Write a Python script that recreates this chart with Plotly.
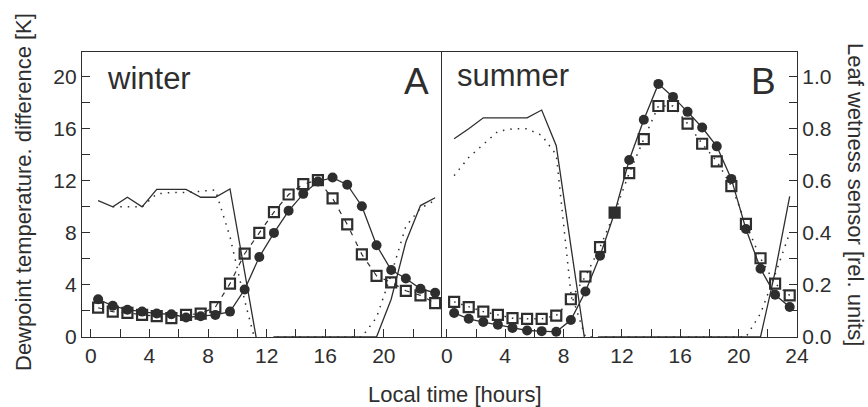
import plotly.graph_objects as go

# ---------------- data ----------------
hours = [0.5, 1.5, 2.5, 3.5, 4.5, 5.5, 6.5, 7.5, 8.5, 9.5, 10.5, 11.5,
         12.5, 13.5, 14.5, 15.5, 16.5, 17.5, 18.5, 19.5, 20.5, 21.5, 22.5, 23.5]

# winter (panel A) dewpoint temperature difference [K]
winter_circles = [2.9, 2.4, 2.1, 1.95, 1.8, 1.75, 1.5, 1.6, 1.7, 1.95, 3.65, 6.15,
                  8.0, 9.7, 11.0, 11.95, 12.25, 11.7, 10.05, 7.05, 5.15, 4.5, 3.7, 3.4]
winter_squares = [2.25, 1.95, 1.85, 1.7, 1.6, 1.45, 1.7, 1.8, 2.3, 4.1, 6.4, 8.0,
                  9.6, 10.95, 11.75, 12.05, 10.65, 8.65, 6.35, 4.7, 4.2, 3.55, 3.2, 2.6]
# winter leaf wetness [rel. units]
winter_wet_solid = [0.524, 0.50, 0.537, 0.50, 0.567, 0.567, 0.567, 0.537, 0.537, 0.569, 0.25, -0.07,
                    0, 0, 0, 0, 0, 0, 0, 0, 0.145, 0.365, 0.505, 0.535]
winter_wet_dotted = [None, 0.50, 0.50, 0.50, 0.55, 0.555, 0.555, 0.56, 0.565, 0.385, 0.14, -0.075,
                     0, 0, 0, 0, 0, 0, 0, 0.075, 0.24, 0.425, 0.495, 0.525]

# summer (panel B)
summer_circles = [1.85, 1.4, 1.15, 0.95, 0.7, 0.5, 0.45, 0.4, 1.3, 3.5, 6.25, 9.55,
                  13.6, 16.7, 19.45, 18.45, 17.3, 16.1, 14.65, 12.15, 8.3, 5.25, 3.25, 2.3]
summer_squares = [2.7, 2.3, 1.95, 1.7, 1.45, 1.4, 1.4, 1.65, 2.9, 4.65, 6.9, 9.55,
                  12.6, 15.2, 17.75, 17.75, 16.4, 14.85, 13.5, 11.6, 8.7, 6.05, 4.1, 3.2]
summer_wet_solid = [0.762, 0.80, 0.842, 0.842, 0.842, 0.842, 0.872, 0.735, 0.35, -0.03, 0, 0,
                    0, 0, 0, 0, 0, 0, 0, 0, 0, 0, 0.25, 0.54]
summer_wet_dotted = [0.62, 0.69, 0.74, 0.79, 0.80, 0.80, 0.775, 0.70, 0.17, 0.0, 0, 0,
                     0, 0, 0, 0, 0, 0, 0, 0, 0, 0.09, 0.24, 0.40]

x_ticks_left = [0, 2, 4, 6, 8, 10, 12, 14, 16, 18, 20, 22]
x_labels_left = ["0", "", "4", "", "8", "", "12", "", "16", "", "20", ""]
x_ticks_right = [0, 2, 4, 6, 8, 10, 12, 14, 16, 18, 20, 22, 24]
x_labels_right = ["0", "", "4", "", "8", "", "12", "", "16", "", "20", "", "24"]
y_ticks_left = [0, 2, 4, 6, 8, 10, 12, 14, 16, 18, 20]
y_labels_left = ["0", "", "4", "", "8", "", "12", "", "16", "", "20"]
y_ticks_right = [0, 0.1, 0.2, 0.3, 0.4, 0.5, 0.6, 0.7, 0.8, 0.9, 1.0]
y_labels_right = ["0.0", "", "0.2", "", "0.4", "", "0.6", "", "0.8", "", "1.0"]

# ---------------- styling ----------------
INK = "#2e2e2e"
FONT = "Liberation Sans, Arial, sans-serif"
W, H = 868, 407
L, R, T, B = 82, 71, 52, 70
PW, PH = W - L - R, H - T - B
DIV = 441  # divider pixel


def px(x):
    return (x - L) / PW


def py(y):
    return (H - B - y) / PH


d = px(DIV)

fig = go.Figure()

sq_sym_summer = ["square-open"] * 24
sq_sym_summer[11] = "square"

# winter
fig.add_trace(go.Scatter(x=hours, y=winter_wet_solid, xaxis="x", yaxis="y3", mode="lines",
                         line=dict(color=INK, width=1.3)))
fig.add_trace(go.Scatter(x=hours, y=winter_wet_dotted, xaxis="x", yaxis="y3", mode="lines",
                         line=dict(color=INK, width=1.5, dash="1.5px,6px")))
fig.add_trace(go.Scatter(x=hours, y=winter_squares, xaxis="x", yaxis="y", mode="lines+markers",
                         line=dict(color=INK, width=1.2, dash="5px,7px"),
                         marker=dict(symbol="square-open", size=10, color=INK,
                                     line=dict(width=2.2, color=INK))))
fig.add_trace(go.Scatter(x=hours, y=winter_circles, xaxis="x", yaxis="y", mode="lines+markers",
                         line=dict(color=INK, width=1.3),
                         marker=dict(symbol="circle", size=10, color=INK)))

# summer
fig.add_trace(go.Scatter(x=hours, y=summer_wet_solid, xaxis="x2", yaxis="y4", mode="lines",
                         line=dict(color=INK, width=1.3)))
fig.add_trace(go.Scatter(x=hours, y=summer_wet_dotted, xaxis="x2", yaxis="y4", mode="lines",
                         line=dict(color=INK, width=1.5, dash="1.5px,6px")))
fig.add_trace(go.Scatter(x=hours, y=summer_squares, xaxis="x2", yaxis="y2", mode="lines+markers",
                         line=dict(color=INK, width=1.5, dash="1.5px,6px"),
                         marker=dict(symbol=sq_sym_summer, size=10, color=INK,
                                     line=dict(width=2.2, color=INK))))
fig.add_trace(go.Scatter(x=hours, y=summer_circles, xaxis="x2", yaxis="y2", mode="lines+markers",
                         line=dict(color=INK, width=1.3),
                         marker=dict(symbol="circle", size=10, color=INK)))

axis_common = dict(showgrid=False, zeroline=False, showline=True, linecolor=INK, linewidth=1.2,
                   ticks="inside", ticklen=8, tickwidth=1.2, tickcolor=INK,
                   tickfont=dict(size=21, color=INK, family=FONT))

fig.update_layout(
    width=W, height=H,
    margin=dict(l=L, r=R, t=T, b=B),
    paper_bgcolor="white", plot_bgcolor="white",
    showlegend=False,
    font=dict(family=FONT, color=INK),
    xaxis=dict(domain=[0, d], range=[-0.6, 23.9], anchor="y", mirror=True,
               tickmode="array", tickvals=x_ticks_left, ticktext=x_labels_left, **axis_common),
    xaxis2=dict(domain=[d, 1], range=[-0.4, 24.0], anchor="y2", mirror=True,
                tickmode="array", tickvals=x_ticks_right, ticktext=x_labels_right, **axis_common),
    yaxis=dict(domain=[0, 1], range=[0, 21.9], anchor="x", mirror=True,
               tickmode="array", tickvals=y_ticks_left, ticktext=y_labels_left, **axis_common),
    yaxis2=dict(domain=[0, 1], range=[0, 21.9], anchor="x2", visible=False),
    yaxis3=dict(overlaying="y", anchor="x", range=[0, 1.095], visible=False),
    yaxis4=dict(overlaying="y2", anchor="x2", side="right", range=[0, 1.095],
                tickmode="array", tickvals=y_ticks_right, ticktext=y_labels_right, **axis_common),
)

ann = [
    dict(text="winter", x=px(105), y=py(79), xanchor="left", yanchor="middle", font=dict(size=31)),
    dict(text="A", x=px(431), y=py(81), xanchor="right", yanchor="middle", font=dict(size=37)),
    dict(text="summer", x=px(455), y=py(75), xanchor="left", yanchor="middle", font=dict(size=31)),
    dict(text="B", x=px(778), y=py(81), xanchor="right", yanchor="middle", font=dict(size=37)),
    dict(text="Local time [hours]", x=px(455), y=py(394), xanchor="center", yanchor="middle",
         font=dict(size=22)),
    dict(text="Dewpoint temperature. difference [K]", x=px(23), y=py(192), textangle=-90,
         xanchor="center", yanchor="middle", font=dict(size=22)),
    dict(text="Leaf wetness sensor [rel. units]", x=px(856), y=py(194), textangle=90,
         xanchor="center", yanchor="middle", font=dict(size=22)),
]
for a in ann:
    a.update(xref="paper", yref="paper", showarrow=False)
    a["font"].update(family=FONT, color=INK)
fig.update_layout(annotations=ann)

fig.write_html("out.html")
